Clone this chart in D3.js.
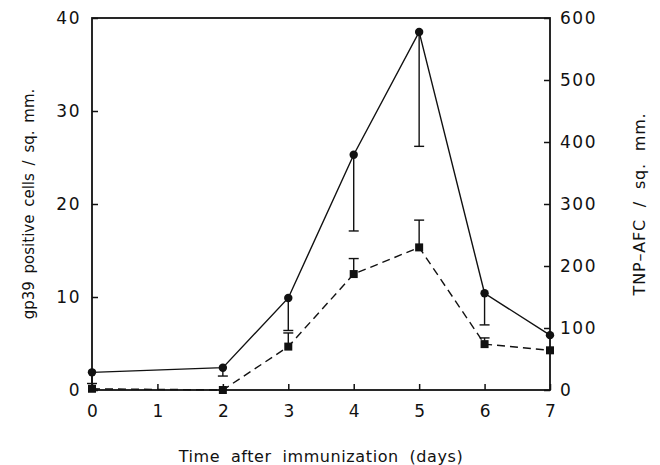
<!DOCTYPE html>
<html>
<head>
<meta charset="utf-8">
<script src="https://cdn.jsdelivr.net/npm/d3@7"></script>
<style>
  body { margin: 0; background: #fff; }
  svg { display: block; }
  text { font-family: "DejaVu Sans", sans-serif; fill: #111; }
</style>
</head>
<body>
<svg id="chart" width="660" height="465"></svg>
<script>
// Data
const days = [0, 2, 3, 4, 5, 6, 7];
const gp39 = [1.9, 2.4, 9.9, 25.3, 38.5, 10.4, 5.9];          // left axis, circles, solid
const gp39Low = [0.7, 1.5, 6.4, 17.1, 26.2, 7.0, null];       // lower error ends
const tnpAfc = [2, 0, 70, 187, 230, 74, 64];                  // right axis, squares, dashed
const tnpAfcHigh = [null, null, 92, 212, 274, 84, null];      // upper error ends
const xTicks = [0, 1, 2, 3, 4, 5, 6, 7];
const leftTicks = [0, 10, 20, 30, 40];
const rightTicks = [0, 100, 200, 300, 400, 500, 600];

const svg = d3.select("#chart");
const m = { left: 92, right: 550, top: 18, bottom: 390 };

const x = d3.scaleLinear().domain([0, 7]).range([m.left, m.right]);
const yL = d3.scaleLinear().domain([0, 40]).range([m.bottom, m.top]);
const yR = d3.scaleLinear().domain([0, 600]).range([m.bottom, m.top]);

const ink = "#111";

// frame
svg.append("rect")
  .attr("x", m.left).attr("y", m.top)
  .attr("width", m.right - m.left).attr("height", m.bottom - m.top)
  .attr("fill", "none").attr("stroke", ink).attr("stroke-width", 1.8);

// axes (ticks inward)
const axL = svg.append("g").attr("transform", `translate(${m.left},0)`)
  .call(d3.axisLeft(yL).tickValues(leftTicks).tickSize(-6).tickPadding(11).tickFormat(d3.format("d")));
const axR = svg.append("g").attr("transform", `translate(${m.right},0)`)
  .call(d3.axisRight(yR).tickValues(rightTicks).tickSize(-6).tickPadding(10).tickFormat(d3.format("d")));
const axB = svg.append("g").attr("transform", `translate(0,${m.bottom})`)
  .call(d3.axisBottom(x).tickValues(xTicks).tickSize(-6).tickPadding(15).tickFormat(d3.format("d")));

[axL, axR, axB].forEach(g => {
  g.select(".domain").remove();
  g.selectAll(".tick line").attr("stroke", ink).attr("stroke-width", 1.5);
  g.selectAll(".tick text").attr("font-size", 17).attr("fill", ink)
    .attr("font-family", "DejaVu Sans, sans-serif").attr("letter-spacing", 1.5);
});
axB.selectAll(".tick text").attr("letter-spacing", 0);

// lines
const lineL = d3.line().x((d, i) => x(days[i])).y(d => yL(d));
const lineR = d3.line().x((d, i) => x(days[i])).y(d => yR(d));

svg.append("path").datum(gp39).attr("d", lineL)
  .attr("fill", "none").attr("stroke", ink).attr("stroke-width", 1.4);
svg.append("path").datum(tnpAfc).attr("d", lineR)
  .attr("fill", "none").attr("stroke", ink).attr("stroke-width", 1.4)
  .attr("stroke-dasharray", "8,5");

// error bars
const capW = 5;
function errBars(vals, ends, y) {
  const g = svg.append("g").attr("stroke", ink).attr("stroke-width", 1.4);
  vals.forEach((v, i) => {
    const e = ends[i];
    if (e === null) return;
    const cx = x(days[i]);
    g.append("line").attr("x1", cx).attr("x2", cx).attr("y1", y(v)).attr("y2", y(e));
    g.append("line").attr("x1", cx - capW).attr("x2", cx + capW).attr("y1", y(e)).attr("y2", y(e));
  });
}
errBars(gp39, gp39Low, yL);
errBars(tnpAfc, tnpAfcHigh, yR);

// markers
svg.append("g").selectAll("circle").data(gp39).join("circle")
  .attr("cx", (d, i) => x(days[i])).attr("cy", d => yL(d)).attr("r", 4.2).attr("fill", ink);
const s = 8;
svg.append("g").selectAll("rect").data(tnpAfc).join("rect")
  .attr("x", (d, i) => x(days[i]) - s / 2).attr("y", d => yR(d) - s / 2)
  .attr("width", s).attr("height", s).attr("fill", ink);

// axis titles
svg.append("text")
  .attr("transform", `translate(34,${(m.top + m.bottom) / 2}) rotate(-90)`)
  .attr("text-anchor", "middle").attr("font-size", 15).attr("word-spacing", 3)
  .text("gp39 positive cells / sq. mm.");
svg.append("text")
  .attr("transform", `translate(645,${(m.top + m.bottom) / 2}) rotate(-90)`)
  .attr("text-anchor", "middle").attr("font-size", 16).attr("letter-spacing", 0.8).attr("word-spacing", 6)
  .text("TNP–AFC / sq. mm.");
svg.append("text")
  .attr("x", (m.left + m.right) / 2).attr("y", 462)
  .attr("text-anchor", "middle").attr("font-size", 16).attr("letter-spacing", 0.6).attr("word-spacing", 5)
  .text("Time after immunization (days)");
</script>
</body>
</html>
